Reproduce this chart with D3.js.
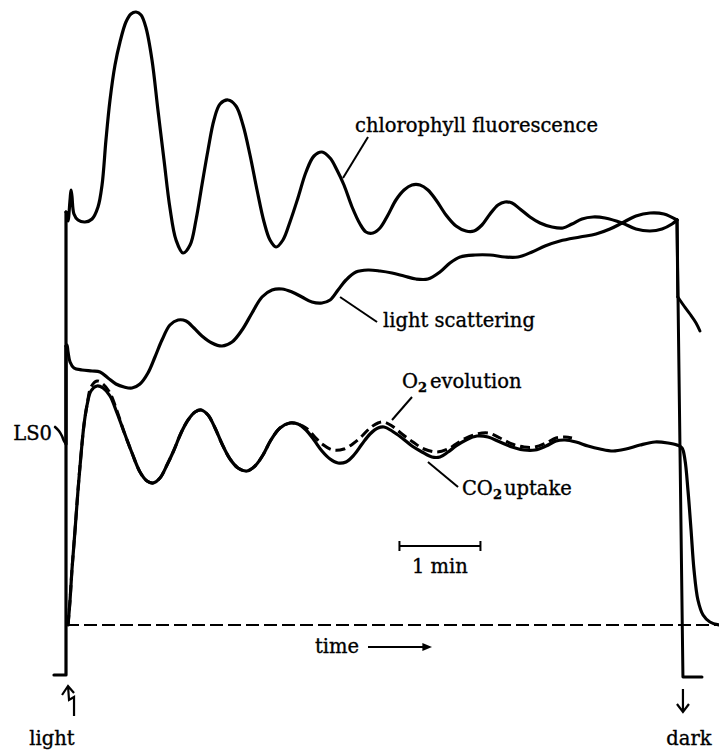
<!DOCTYPE html>
<html>
<head>
<meta charset="utf-8">
<script src="https://cdn.jsdelivr.net/npm/d3@7"></script>
<style>
  body { margin: 0; background: #fff; }
  svg { display: block; }
  text { font-family: "DejaVu Serif", serif; fill: #000; stroke: #000; stroke-width: 0.35px; }
</style>
</head>
<body>
<svg id="chart" width="719" height="754"></svg>
<script>
// time: seconds after light on; signal: relative units (dashed zero line = 0)
var fluorescence = [
  [0,82.6],[0.7,82.4],[1.5,80.8],[3.0,85],[3.7,87],[4.4,85.8],[5.9,82.2],[8.9,81],
  [14.1,80.6],[19.3,81.2],[23.7,83.6],[26.7,88],[29.6,97],[32.6,105],[36.3,112],
  [40.0,116.6],[44.4,120.6],[48.1,122.2],[51.9,122.6],[55.6,122],[59.3,119.4],
  [63.7,113],[68.1,103],[72.6,93],[77.0,83.4],[81.5,77],[86.7,74.4],[91.9,76],
  [96.3,81],[100.7,88],[105.2,95],[109.6,101],[114.1,104.2],[120.0,105],[125.9,103.8],
  [131.1,100],[136.3,94],[141.5,87],[146.7,80.6],[151.1,77],[155.6,75.6],[160.7,77],
  [165.9,80.6],[171.8,85.4],[177.8,90.6],[183.7,93.8],[189.6,94.6],[195.6,93.4],
  [200.7,91],[205.9,88],[211.9,83.6],[217.8,80.2],[222.2,78.6],[227.4,78.4],
  [232.6,79.4],[238.5,82],[244.4,85],[250.4,87],[256.3,88],[262.2,88],[268.1,87],
  [274.1,85],[281.5,82],[288.9,79.8],[296.3,78.8],[302.2,78.8],[308.1,80],[314.1,82.2],
  [320.0,84],[325.2,84.6],[330.4,84.4],[336.3,83.2],[343.7,81.6],[351.1,80.4],
  [360.0,79.6],[368.1,79.4],[374.8,80.2],[382.2,81.2],[390.4,81.6],[399.3,81.4],
  [411.9,80.4],[422.2,79.2],[432.6,78.8],[441.5,79.2],[448.9,80.2],[452.6,81]
];
var fluorDark = [[-8.9,-10],[0,-10]];
var fluorOff = [[457.0,-10.4],[471.1,-10.4]];

var scattering = [
  [0,55.8],[0.7,56],[1.5,54.6],[3.0,52.6],[5.9,51.4],[11.9,51],[19.3,50.8],[25.2,50.6],
  [31.1,49.4],[37.0,48.2],[43.0,47.6],[48.9,47.4],[54.8,48.2],[60.7,50.4],[65.9,53.6],
  [71.1,57],[77.0,60],[83.0,61],[88.9,60.8],[94.8,59.4],[100.7,57.8],[108.1,56.4],
  [115.6,55.8],[123.0,56.6],[130.4,59],[137.8,62.4],[145.2,65.6],[152.6,67],[160.0,67.2],
  [167.4,66.6],[174.8,65.6],[182.2,64.6],[189.6,64.4],[195.6,65],[201.5,67],[207.4,69],
  [214.8,70.6],[223.7,71],[232.6,70.8],[241.5,70.4],[250.4,69.8],[259.3,69.2],
  [268.1,69.2],[277.0,70.6],[284.4,72.4],[291.9,73.6],[303.0,74],[314.1,74],
  [325.2,73.6],[334.8,73.6],[345.2,74.6],[354.8,75.8],[365.9,76.8],[380.7,77.6],
  [392.6,78.2],[402.9,79.2],[411.9,80.4],[422.2,81.8],[432.6,82.4],[442.9,82.2],[452.6,81]
];
var scatterDark = [[-8.1,39.6],[-5.2,38.8],[-3.0,37.8],[-1.5,36.8],[0,36.2]];
var scatterOff = [[453.2,65.6],[457.8,63.8],[462.2,62.2],[466.7,60.4],[469.6,58.8]];

var co2Uptake = [
  [1.5,0],[3.0,5],[4.4,11],[6.7,19],[8.9,27],[11.1,34],[13.3,40],[15.6,44],[18.5,46.8],
  [23.0,47.8],[27.4,47.4],[32.6,45.8],[37.8,42.4],[43.0,38.6],[48.9,34.4],[54.8,30.6],
  [60.0,28.8],[64.4,28.4],[69.6,29.4],[74.8,32],[80.0,35],[85.2,38.4],[90.4,41],
  [95.6,42.6],[100.0,43],[105.2,42],[110.4,39.4],[115.6,36.2],[121.5,33.2],[127.4,31.4],
  [134.1,30.8],[140.0,31.8],[145.9,34],[151.8,37],[158.5,39.4],[165.9,40.4],[171.8,40.2],
  [177.8,39],[183.7,37],[189.6,34.8],[195.6,33.2],[201.5,32.4],[207.4,32.6],[213.3,34],
  [219.3,36.2],[225.2,38.2],[231.1,39.4],[235.6,39.6],[241.5,38.8],[248.9,37.4],
  [256.3,35.8],[263.7,34.6],[271.1,33.6],[277.0,33.6],[283.0,34.6],[288.9,35.8],
  [296.3,37],[304.4,37.8],[312.6,37.6],[321.5,36.6],[330.4,35.6],[339.3,35],[347.4,35],
  [355.6,35.8],[363.0,36.8],[369.6,37],[377.8,36.6],[386.7,35.8],[395.6,35.2],
  [405.2,34.8],[414.8,35.2],[425.2,36],[436.3,36.6],[445.9,36.4],[452.6,36],
  [456.3,35.4],[458.5,33],[460.7,27],[463.0,19],[465.2,11],[468.1,5],[471.9,2],
  [477.0,0.6],[483.7,0]
];

var o2Evolution = [
  [1.5,0],[3.0,5],[4.4,11],[6.7,19],[8.9,27],[11.1,34],[13.3,40],[15.6,44],[18.5,47.6],
  [23.0,48.8],[27.4,48.2],[32.6,46.4],[37.8,42.8],[43.0,38.6],[48.9,34.4],[54.8,30.6],
  [60.0,28.8],[64.4,28.4],[69.6,29.4],[74.8,32],[80.0,35],[85.2,38.4],[90.4,41],
  [95.6,42.6],[100.0,43],[105.2,42],[110.4,39.4],[115.6,36.2],[121.5,33.2],[127.4,31.4],
  [134.1,30.8],[140.0,31.8],[145.9,34],[151.8,37],[158.5,39.4],[165.9,40.4],[171.8,40.2],
  [177.8,39.4],[183.7,37.8],[189.6,36.2],[197.8,35],[205.9,35.2],[213.3,36.4],
  [219.3,37.8],[225.2,39.4],[231.1,40.4],[235.6,40.6],[241.5,39.8],[248.9,38.2],
  [257.0,36.6],[265.2,35.2],[274.8,34.6],[283.0,35.2],[288.9,36.2],[296.3,37.4],
  [304.4,38.2],[312.6,38.4],[321.5,37.4],[330.4,36.2],[339.3,35.6],[347.4,35.6],
  [355.6,36.4],[363.0,37.4],[369.6,37.6],[374.8,37.4]
];

var svg = d3.select("#chart");

// 1 min = 81 px on the original trace
var x = d3.scaleLinear().domain([0, 480]).range([66, 66 + 480 * 1.35]);
var y = d3.scaleLinear().domain([0, 120]).range([625, 25]);

var smooth = d3.line()
  .x(function(d) { return x(d[0]); })
  .y(function(d) { return y(d[1]); })
  .curve(d3.curveCatmullRom.alpha(0.5));
var straight = d3.line()
  .x(function(d) { return x(d[0]); })
  .y(function(d) { return y(d[1]); });

function draw(pts, gen, w, dash) {
  var p = svg.append("path")
    .datum(pts)
    .attr("d", gen)
    .attr("fill", "none")
    .attr("stroke", "#000")
    .attr("stroke-width", w)
    .attr("stroke-linejoin", "round")
    .attr("stroke-linecap", dash ? "butt" : "round");
  if (dash) p.attr("stroke-dasharray", dash);
  return p;
}

// zero line
draw([[0, 0], [483.7, 0]], straight, 2, "13,5");

// O2 dashed under CO2 solid
draw(o2Evolution, smooth, 3, "10,5");
draw(co2Uptake, smooth, 3.2);

// light scattering
draw(scatterDark, smooth, 2.6);
draw([scatterDark[scatterDark.length - 1], scattering[0]], straight, 3.2);
draw(scattering, smooth, 3.2);
draw([scattering[scattering.length - 1], scatterOff[0]], straight, 3);
draw(scatterOff, smooth, 3);

// chlorophyll fluorescence
draw(fluorDark.concat([fluorescence[0]]), straight, 3.2);
draw(fluorescence, smooth, 3.2);
draw([fluorescence[fluorescence.length - 1]].concat(fluorOff), straight, 3);

// labels with leader lines
function leader(a, b) {
  svg.append("line")
    .attr("x1", x(a[0])).attr("y1", y(a[1]))
    .attr("x2", x(b[0])).attr("y2", y(b[1]))
    .attr("stroke", "#000").attr("stroke-width", 2);
}
function label(t, u, s, anchor) {
  return svg.append("text")
    .attr("x", x(t)).attr("y", y(u))
    .attr("font-size", 19.5)
    .attr("text-anchor", anchor || "start")
    .text(s);
}

label(214.1, 98.6, "chlorophyll fluorescence");
leader([223.7, 97.6], [205.2, 89.4]);

label(234.8, 59.6, "light scattering");
leader([203.0, 65.6], [230.4, 60.6]);

var o2 = svg.append("text").attr("x", x(248.9)).attr("y", y(47.4)).attr("font-size", 19.5);
o2.append("tspan").text("O");
o2.append("tspan").attr("font-size", 13).attr("dy", 4).attr("font-weight", "bold").text("2");
o2.append("tspan").attr("dy", -4).attr("dx", 3).text("evolution");
leader([256.3, 45.6], [241.5, 41]);

var co2 = svg.append("text").attr("x", x(293.3)).attr("y", y(26)).attr("font-size", 19.5);
co2.append("tspan").text("CO");
co2.append("tspan").attr("font-size", 13).attr("dy", 4).attr("font-weight", "bold").text("2");
co2.append("tspan").attr("dy", -4).attr("dx", 2).text("uptake");
leader([268.1, 32.6], [290.4, 27.6]);

label(-10.4, 37, "LS0", "end");

// 1 min scale bar
var barY = y(15.8);
svg.append("path")
  .attr("d", "M" + x(247) + "," + (barY - 5) + "V" + (barY + 5) +
             "M" + x(247) + "," + barY + "H" + x(307) +
             "M" + x(307) + "," + (barY - 5) + "V" + (barY + 5))
  .attr("fill", "none").attr("stroke", "#000").attr("stroke-width", 2);
label(277, 10.4, "1 min", "middle");

// time arrow
label(184.4, -5.6, "time");
svg.append("line")
  .attr("x1", x(223.7)).attr("y1", y(-4.4))
  .attr("x2", x(268)).attr("y2", y(-4.4))
  .attr("stroke", "#000").attr("stroke-width", 2);
svg.append("path")
  .attr("d", "M" + x(264) + "," + (y(-4.4) - 4) + "L" + x(271.1) + "," + y(-4.4) +
             "L" + x(264) + "," + (y(-4.4) + 4) + "Z")
  .attr("fill", "#000");

// light on / dark markers
var xl = x(1.5), xd = x(457);
svg.append("path")
  .attr("d", "M" + (xl - 6) + ",695L" + xl + ",686L" + (xl + 6) + ",693" +
             "M" + xl + ",686L" + (xl + 1) + ",700L" + (xl + 6) + ",697L" + (xl + 6) + ",716")
  .attr("fill", "none").attr("stroke", "#000").attr("stroke-width", 2.2)
  .attr("stroke-linejoin", "miter");
svg.append("text").attr("x", xl - 16).attr("y", 745).attr("font-size", 19.5)
  .attr("text-anchor", "middle").text("light");

svg.append("path")
  .attr("d", "M" + xd + ",689V712M" + (xd - 6) + ",704L" + xd + ",712L" + (xd + 6) + ",704")
  .attr("fill", "none").attr("stroke", "#000").attr("stroke-width", 2.2);
svg.append("text").attr("x", xd + 6).attr("y", 745).attr("font-size", 19.5)
  .attr("text-anchor", "middle").text("dark");
</script>
</body>
</html>
